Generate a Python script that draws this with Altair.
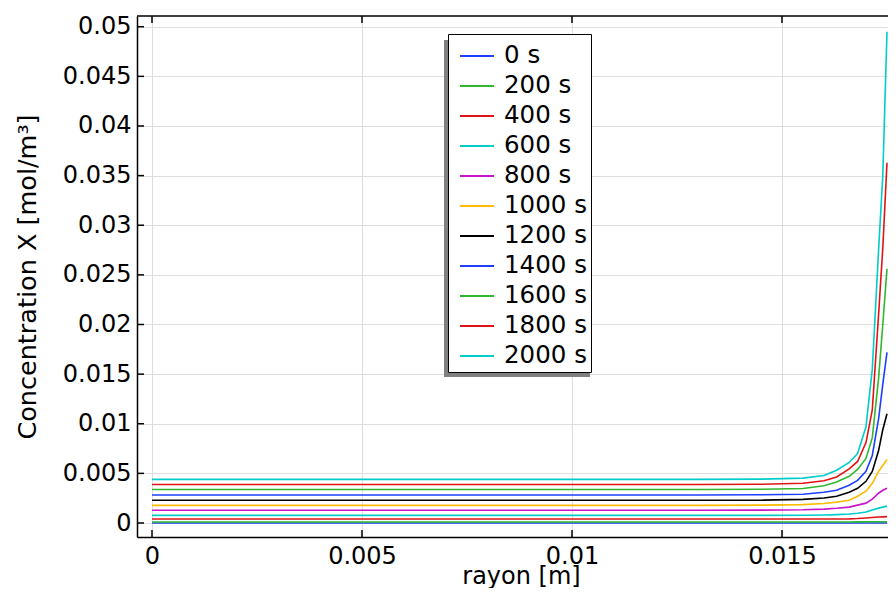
import altair as alt
import pandas as pd

# radial positions [m]
r = [0, 0.005, 0.01, 0.013, 0.0145, 0.0155, 0.016, 0.0163, 0.0166, 0.0168, 0.017, 0.01715, 0.0173, 0.0174, 0.0175]

labels = ["0 s", "200 s", "400 s", "600 s", "800 s", "1000 s", "1200 s",
          "1400 s", "1600 s", "1800 s", "2000 s"]
colors = ["#1f3fff", "#2fb82f", "#e01414", "#00cccc", "#cc14cc", "#ffbb00", "#000000",
          "#1f3fff", "#2fb82f", "#e01414", "#00cccc"]

c0    = [0, 0, 0, 0, 0, 0, 0, 0, 0, 0, 0, 0, 0, 0, 0]
c200  = [0.0001, 0.0001, 0.0001, 0.0001, 0.0001, 0.0001, 0.0001, 0.0001, 0.0001, 0.00011, 0.00011, 0.00012, 0.00012, 0.00013, 0.00013]
c400  = [0.0004, 0.0004, 0.0004, 0.0004, 0.0004, 0.0004, 0.00041, 0.00041, 0.00042, 0.00045, 0.0005, 0.00055, 0.0006, 0.00062, 0.00064]
c600  = [0.00077, 0.00077, 0.00077, 0.00077, 0.00077, 0.00078, 0.0008, 0.00084, 0.0009, 0.00098, 0.0011, 0.0013, 0.0015, 0.0016, 0.0017]
c800  = [0.00128, 0.00128, 0.00128, 0.00128, 0.0013, 0.00133, 0.0014, 0.00148, 0.0016, 0.0018, 0.002, 0.0024, 0.003, 0.0033, 0.0035]
c1000 = [0.00178, 0.00178, 0.00178, 0.00178, 0.0018, 0.00185, 0.00196, 0.0021, 0.0023, 0.0027, 0.0032, 0.004, 0.0052, 0.0058, 0.0064]
c1200 = [0.00229, 0.00229, 0.00229, 0.00229, 0.0023, 0.00238, 0.00252, 0.0027, 0.0031, 0.0035, 0.0042, 0.0052, 0.0073, 0.0094, 0.011]
c1400 = [0.00282, 0.00282, 0.00282, 0.00282, 0.00285, 0.0029, 0.0031, 0.0033, 0.0038, 0.0043, 0.0052, 0.0068, 0.0105, 0.014, 0.0172]
c1600 = [0.00337, 0.00337, 0.00337, 0.00337, 0.0034, 0.00348, 0.00375, 0.00413, 0.0047, 0.0054, 0.0065, 0.0086, 0.0146, 0.02, 0.0256]
c1800 = [0.00388, 0.00388, 0.00388, 0.00388, 0.0039, 0.004, 0.00425, 0.00464, 0.00545, 0.0062, 0.0081, 0.0114, 0.021, 0.0277, 0.0363]
c2000 = [0.0044, 0.0044, 0.0044, 0.0044, 0.00442, 0.00452, 0.00478, 0.00531, 0.0061, 0.007, 0.0097, 0.0155, 0.0275, 0.035, 0.0495]

series = [c0, c200, c400, c600, c800, c1000, c1200, c1400, c1600, c1800, c2000]

x_ticks = [0, 0.005, 0.01, 0.015]
y_ticks = [0, 0.005, 0.01, 0.015, 0.02, 0.025, 0.03, 0.035, 0.04, 0.045, 0.05]
x_domain = [-0.000357, 0.017524]
y_domain = [-0.00141, 0.05108]

rows = []
for lab, vals in zip(labels, series):
    for i, (ri, v) in enumerate(zip(r, vals)):
        rows.append({"r": ri, "c": v, "t": lab, "i": i})
df = pd.DataFrame(rows)

W, H = 751, 521
FONT = "DejaVu Sans"

xs = alt.Scale(domain=x_domain, nice=False, zero=False)
ys = alt.Scale(domain=y_domain, nice=False, zero=False)

lines = alt.Chart(df).mark_line(strokeWidth=1.6, clip=True).encode(
    x=alt.X("r:Q", scale=xs,
            axis=alt.Axis(values=x_ticks, format="~g", title="rayon [m]",
                          labelPadding=26, labelBaseline="alphabetic", labelFlush=False,
                          labelOverlap=False, titleFontSize=24,
                          titleX=384, titleY=46, titleBaseline="alphabetic", titleAlign="center")),
    y=alt.Y("c:Q", scale=ys,
            axis=alt.Axis(values=y_ticks, format="~g", title="Concentration X [mol/m³]",
                          labelPadding=6, labelBaseline="middle", labelFlush=False,
                          labelOverlap=False, titleFontSize=25.5,
                          titleX=-102, titleY=H / 2, titleAngle=-90,
                          titleBaseline="alphabetic", titleAlign="center")),
    color=alt.Color("t:N", sort=labels,
                    scale=alt.Scale(domain=labels, range=colors),
                    legend=alt.Legend(title=None, orient="none", legendX=311, legendY=18,
                                      fillColor="white", strokeColor="black",
                                      padding=4, symbolOffset=7,
                                      labelFont=FONT, labelFontSize=24.5,
                                      labelColor="black",
                                      symbolType="stroke", symbolStrokeWidth=2,
                                      symbolSize=1156, labelOffset=9, rowPadding=0)),
    order="i:Q",
)

one = pd.DataFrame({"k": [0]})
shadow = alt.Chart(one).mark_rect(color="#808080").encode(
    x=alt.value(307), x2=alt.value(453), y=alt.value(24), y2=alt.value(361))

top_line = alt.Chart(one).mark_rule(color="black", strokeWidth=1.5).encode(
    x=alt.value(0), x2=alt.value(W), y=alt.value(0))

xt = pd.DataFrame({"v": x_ticks})
yt = pd.DataFrame({"v": y_ticks})
tick_bottom = alt.Chart(xt).mark_rule(color="black", strokeWidth=1.5).encode(
    x=alt.X("v:Q", scale=xs), y=alt.value(H), y2=alt.value(H - 7))
tick_top = alt.Chart(xt).mark_rule(color="black", strokeWidth=1.5).encode(
    x=alt.X("v:Q", scale=xs), y=alt.value(0), y2=alt.value(7))
tick_left = alt.Chart(yt).mark_rule(color="black", strokeWidth=1.5).encode(
    y=alt.Y("v:Q", scale=ys), x=alt.value(0), x2=alt.value(7))

chart = alt.layer(shadow, lines, top_line, tick_bottom, tick_top, tick_left).properties(
    width=W, height=H,
    autosize=alt.AutoSizeParams(type="none"),
    padding={"left": 129, "top": 8, "right": 0, "bottom": 51},
).configure_view(stroke=None).configure_axis(
    labelFont=FONT, labelFontSize=24, labelColor="black",
    titleFont=FONT, titleFontWeight="normal", titleColor="black",
    gridColor="#dedede", gridWidth=1, domainColor="black", domainWidth=1.5,
    ticks=False, tickSize=0,
)

chart.save("out.html", embed_options={"renderer": "svg", "actions": False})
